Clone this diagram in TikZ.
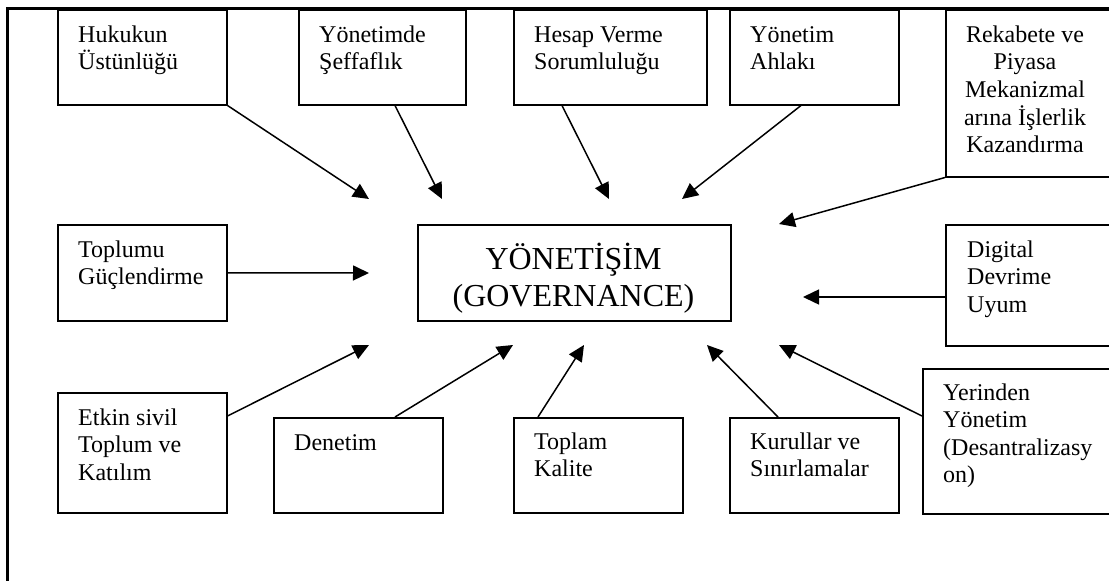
\documentclass[tikz,border=0pt]{standalone}
\usepackage{fontspec}
\setmainfont{Liberation Serif}
\usetikzlibrary{arrows.meta,calc}
\newcommand\stk[2][l]{\begin{tabular}[t]{@{}#1@{}}#2\end{tabular}}
\begin{document}
\begin{tikzpicture}[x=1pt,y=-1pt,
  box/.style={draw, line width=1.5pt, rectangle, inner sep=0pt, anchor=north west},
  txt/.style={inner sep=0pt, anchor=base west, font=\fontsize{24}{27.5}\selectfont},
  big/.style={inner sep=0pt, anchor=base, font=\fontsize{32}{37}\selectfont},
  arr/.style={line width=1.5pt, -{Triangle[length=16pt,width=15pt]}},
  outer/.style={line width=3pt}]
\useasboundingbox (0,0) rectangle (1109,581);
% outer frame
\draw[outer] (7.5,600) -- (7.5,8.5) -- (1130,8.5);
% boxes
\node[box, minimum width=169pt, minimum height=95pt] (hukuk) at (57,9) {};
\node[box, minimum width=167pt, minimum height=95pt] (yonet) at (298,9) {};
\node[box, minimum width=193pt, minimum height=95pt] (hesap) at (513,9) {};
\node[box, minimum width=169pt, minimum height=95pt] (ahlak) at (729,9) {};
\node[box, minimum width=220pt, minimum height=167pt] (rekabet) at (945,9) {};
\node[box, minimum width=169pt, minimum height=96pt] (toplumu) at (57,224) {};
\node[box, minimum width=313pt, minimum height=96pt] (gov) at (417,224) {};
\node[box, minimum width=220pt, minimum height=121pt] (digital) at (945,224) {};
\node[box, minimum width=169pt, minimum height=120pt] (etkin) at (57,392) {};
\node[box, minimum width=169pt, minimum height=95pt] (denet) at (273,417) {};
\node[box, minimum width=169pt, minimum height=95pt] (toplam) at (513,417) {};
\node[box, minimum width=169pt, minimum height=95pt] (kurul) at (729,417) {};
\node[box, minimum width=250pt, minimum height=145pt] (yerin) at (922,368) {};
% texts
\node[txt] (hukukT) at ($(hukuk.north west)+(21,33)$) {\stk{Hukukun\\Üstünlüğü}};
\node[txt] (yonetT) at ($(yonet.north west)+(21,33)$) {\stk{Yönetimde\\Şeffaflık}};
\node[txt] (hesapT) at ($(hesap.north west)+(21,33)$) {\stk{Hesap Verme\\Sorumluluğu}};
\node[txt] (ahlakT) at ($(ahlak.north west)+(21,33)$) {\stk{Yönetim\\Ahlakı}};
\node[txt, anchor=base] (rekabetT) at ($(rekabet.north west)+(80,33)$) {\stk[c]{Rekabete ve\\Piyasa\\Mekanizmal\\arına İşlerlik\\Kazandırma}};
\node[txt] (toplumuT) at ($(toplumu.north west)+(21,33)$) {\stk{Toplumu\\Güçlendirme}};
\node[big] (govT) at ($(gov.north west)+(156.5,45)$) {\stk[c]{YÖNETİŞİM\\(GOVERNANCE)}};
\node[txt] (digitalT) at ($(digital.north west)+(22,33)$) {\stk{Digital\\Devrime\\Uyum}};
\node[txt] (etkinT) at ($(etkin.north west)+(21,33)$) {\stk{Etkin sivil\\Toplum ve\\Katılım}};
\node[txt] (denetT) at ($(denet.north west)+(21,33)$) {\stk{Denetim}};
\node[txt] (toplamT) at ($(toplam.north west)+(21,32)$) {\stk{Toplam\\Kalite}};
\node[txt] (kurulT) at ($(kurul.north west)+(21,32)$) {\stk{Kurullar ve\\Sınırlamalar}};
\node[txt] (yerinT) at ($(yerin.north west)+(21,32)$) {\stk{Yerinden\\Yönetim\\(Desantralizasy\\on)}};
% arrow end points
\coordinate (e1) at (369,199);
\coordinate (e2) at (442,199);
\coordinate (e3) at (609,199);
\coordinate (e4) at (682,199);
\coordinate (e5) at (779,224);
\coordinate (e6) at (369,273);
\coordinate (e7) at (803,297);
\coordinate (e8) at (369,345);
\coordinate (e9) at (513,345);
\coordinate (e10) at (584,345);
\coordinate (e11) at (707,345);
\coordinate (e12) at (779,345);
% arrows
\draw[arr] (hukuk.south east) -- (e1);
\draw[arr] ($(yonet.south west)+(97,0)$) -- (e2);
\draw[arr] ($(hesap.south west)+(49,0)$) -- (e3);
\draw[arr] ($(ahlak.south west)+(72,0)$) -- (e4);
\draw[arr] (rekabet.south west) -- (e5);
\draw[arr] (toplumu.east) -- (e6);
\draw[arr] ($(digital.north west)+(0,73)$) -- (e7);
\draw[arr] ($(etkin.north east)+(0,24)$) -- (e8);
\draw[arr] ($(denet.north west)+(122,0)$) -- (e9);
\draw[arr] ($(toplam.north west)+(25,0)$) -- (e10);
\draw[arr] ($(kurul.north west)+(49,0)$) -- (e11);
\draw[arr] ($(yerin.north west)+(0,48)$) -- (e12);
\end{tikzpicture}
\end{document}
